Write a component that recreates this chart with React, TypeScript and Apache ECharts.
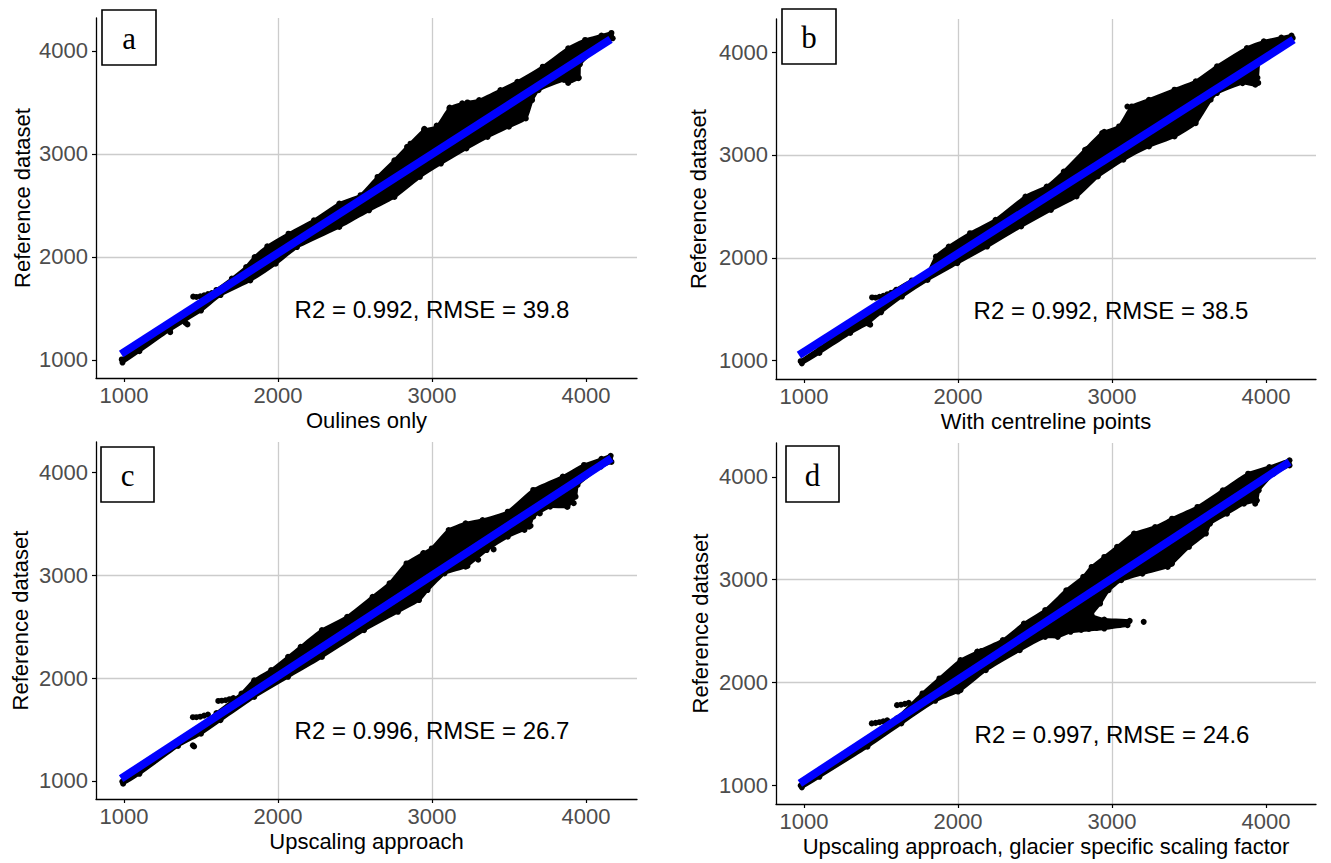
import { useEffect, useRef } from 'react';
import * as echarts from 'echarts';

// ---------- data ----------
const xTicks = [1000, 2000, 3000, 4000];
const yTicks = [1000, 2000, 3000, 4000];
const panelLetters = ['a', 'b', 'c', 'd'];
const xTitles = [
  'Oulines only',
  'With centreline points',
  'Upscaling approach',
  'Upscaling approach, glacier specific scaling factor',
];
const yTitle = 'Reference dataset';
const statLabels = [
  'R2 = 0.992, RMSE = 39.8',
  'R2 = 0.992, RMSE = 38.5',
  'R2 = 0.996, RMSE = 26.7',
  'R2 = 0.997, RMSE = 24.6',
];

// Panel a: upper / lower envelope of the point cloud, outlying points, fitted line
const upperA = [[985,1005],[1100,1130],[1250,1290],[1400,1440],[1600,1680],[1700,1790],[1793,1902],[1848,1999],[1930,2103],[2068,2226],[2233,2356],[2398,2518],[2536,2600],[2646,2777],[2756,2939],[2838,3069],[2948,3231],[3031,3264],[3113,3442],[3196,3491],[3306,3523],[3444,3620],[3554,3701],[3719,3847],[3884,4026],[3994,4107],[4100,4150],[4165,4175]];
const lowerA = [[990,975],[1100,1085],[1297,1290],[1500,1480],[1627,1630],[1820,1772],[1985,1934],[2123,2096],[2398,2291],[2591,2453],[2756,2583],[2921,2777],[3058,2907],[3223,3053],[3361,3166],[3499,3264],[3609,3345],[3650,3523],[3692,3620],[3857,3718],[3884,3690],[3953,3740],[3960,3870],[4104,4074],[4173,4123]];
const outliersA = [[1449,1615],[1470,1612],[1495,1618],[1520,1628],[1545,1640],[1570,1650],[1400,1360],[1412,1345],[1300,1270],[1960,1930],[2010,2080],[2860,3100],[2950,3245],[3030,3275],[3115,3450],[3230,3500],[3950,3735],[3940,3760]];
const lineA = [[981,1058],[4159,4113]];

// Panel b
const upperB = [[978,995],[1100,1120],[1250,1280],[1420,1440],[1600,1690],[1700,1780],[1802,1850],[1857,2012],[1940,2109],[2078,2239],[2244,2369],[2438,2596],[2576,2693],[2687,2839],[2825,3050],[2936,3212],[3046,3277],[3129,3471],[3240,3536],[3406,3634],[3544,3715],[3682,3861],[3876,4039],[3986,4104],[4100,4140],[4166,4160]];
const lowerB = [[986,974],[1100,1075],[1300,1270],[1415,1363],[1500,1470],[1636,1623],[1802,1785],[1995,1947],[2189,2109],[2410,2304],[2604,2466],[2770,2596],[2908,2790],[3074,2953],[3240,3082],[3406,3180],[3544,3309],[3641,3536],[3682,3601],[3848,3698],[3931,3682],[3945,3750],[3959,3925],[4097,4074],[4174,4136]];
const outliersB = [[1442,1615],[1465,1612],[1490,1620],[1515,1630],[1540,1645],[1565,1660],[1590,1675],[1415,1363],[1430,1350],[1910,1965],[1990,2080],[2840,3060],[2950,3225],[3100,3470],[3930,3690],[3950,3700]];
const lineB = [[967,1055],[4179,4120]];

// Panel c
const upperC = [[989,995],[1100,1110],[1300,1310],[1440,1470],[1600,1660],[1763,1850],[1845,1979],[1955,2077],[2065,2206],[2147,2304],[2285,2466],[2449,2596],[2614,2790],[2724,2920],[2834,3114],[2943,3212],[2998,3260],[3108,3439],[3218,3504],[3328,3536],[3492,3617],[3657,3828],[3849,3958],[3987,4071],[4100,4130],[4160,4160]];
const lowerC = [[994,974],[1100,1070],[1351,1340],[1500,1460],[1626,1590],[1845,1817],[2065,2012],[2285,2206],[2559,2466],[2779,2644],[2916,2758],[2971,2855],[3081,3017],[3218,3082],[3355,3244],[3492,3374],[3630,3471],[3657,3568],[3767,3666],[3877,3666],[3932,3763],[3945,3877],[4096,4055],[4165,4100]];
const outliersC = [[1447,1620],[1470,1620],[1495,1625],[1520,1635],[1545,1645],[1612,1778],[1635,1780],[1660,1785],[1685,1795],[1710,1805],[1447,1347],[1455,1335],[1351,1363],[1980,2050],[2945,3215],[3000,3250],[3230,3090],[3300,3150],[3400,3250],[3600,3440],[3640,3480],[3700,3600],[3880,3666],[3920,3700]];
const lineC = [[981,1023],[4165,4136]];

// Panel d
const upperD = [[978,995],[1100,1110],[1300,1310],[1440,1470],[1604,1650],[1769,1892],[1879,2038],[2016,2216],[2126,2297],[2291,2411],[2428,2573],[2566,2703],[2703,2897],[2813,3027],[2868,3124],[2950,3221],[3033,3319],[3143,3449],[3280,3513],[3390,3594],[3555,3708],[3720,3870],[3884,4032],[4022,4097],[4153,4162]];
const lowerD = [[986,977],[1100,1080],[1412,1373],[1632,1600],[1852,1820],[2016,1924],[2181,2119],[2401,2313],[2566,2443],[2648,2443],[2731,2492],[2950,2524],[3101,2557],[3115,2599],[2950,2612],[2868,2654],[2923,2767],[2978,2897],[3060,2994],[3198,3059],[3362,3124],[3390,3157],[3500,3319],[3610,3449],[3637,3546],[3747,3643],[3857,3740],[3939,3773],[3953,3870],[4049,4032],[4153,4113]];
const outliersD = [[1440,1600],[1465,1605],[1490,1612],[1515,1620],[1540,1630],[1604,1778],[1630,1782],[1655,1790],[1680,1800],[2126,2300],[2150,2305],[2000,1910],[2010,1940],[2750,2520],[2800,2510],[2850,2520],[2900,2530],[2950,2545],[3000,2555],[3050,2565],[3100,2575],[3206,2589],[3380,3150],[3940,3770],[3930,3740]];
const lineD = [[973,1016],[4153,4146]];

const uppers = [upperA, upperB, upperC, upperD];
const lowers = [lowerA, lowerB, lowerC, lowerD];
const outliers = [outliersA, outliersB, outliersC, outliersD];
const fitLines = [lineA, lineB, lineC, lineD];

// ---------- layout ----------
const layouts = [
  { left: 96, top: 18, width: 541, height: 360, xMin: 818, xMax: 4331, yMin: 825, yMax: 4320, box: [102, 10, 54, 55], stat: [432, 309], yGap: 63 },
  { left: 776, top: 19, width: 540, height: 360, xMin: 818, xMax: 4325, yMin: 822, yMax: 4321, box: [782, 9, 54, 55], stat: [1111, 310], yGap: 67 },
  { left: 96, top: 442, width: 541, height: 357, xMin: 818, xMax: 4331, yMin: 825, yMax: 4294, box: [101, 447, 53, 55], stat: [432, 730], yGap: 65 },
  { left: 776, top: 443, width: 540, height: 361, xMin: 818, xMax: 4325, yMin: 815, yMax: 4331, box: [786, 446, 53, 56], stat: [1112, 734], yGap: 65 },
];

const SANS = 'Liberation Sans, Arial, sans-serif';
const SERIF = 'Liberation Serif, Times New Roman, serif';
const GRID_COLOR = '#cccccc';
const plainNumber = (v: number) => String(v);

function buildOption() {
  const grid: any[] = [];
  const xAxis: any[] = [];
  const yAxis: any[] = [];
  const series: any[] = [];
  const graphic: any[] = [];

  layouts.forEach((L, i) => {
    grid.push({ left: L.left, top: L.top, width: L.width, height: L.height, containLabel: false });
    const common = {
      gridIndex: i,
      type: 'value',
      nameLocation: 'middle',
      axisLine: { show: true, onZero: false, lineStyle: { color: '#000', width: 1.3 } },
      axisTick: { show: true, length: 4, inside: false, lineStyle: { color: '#000', width: 1.2 } },
      splitLine: { show: true, showMinLine: false, showMaxLine: false, lineStyle: { color: GRID_COLOR, width: 1.3 } },
      nameTextStyle: { color: '#000', fontSize: 22, fontFamily: SANS },
    };
    xAxis.push({
      ...common,
      min: L.xMin,
      max: L.xMax,
      name: xTitles[i],
      nameGap: 31,
      axisTick: { ...common.axisTick, customValues: xTicks },
      axisLabel: { customValues: xTicks, formatter: plainNumber, color: '#4d4d4d', fontSize: 22, fontFamily: SANS, margin: 6 },
    });
    yAxis.push({
      ...common,
      min: L.yMin,
      max: L.yMax,
      name: yTitle,
      nameGap: L.yGap,
      axisTick: { ...common.axisTick, customValues: yTicks },
      axisLabel: { customValues: yTicks, formatter: plainNumber, color: '#4d4d4d', fontSize: 22, fontFamily: SANS, margin: 8 },
    });

    const poly = uppers[i].concat(lowers[i].slice().reverse());
    series.push({
      type: 'custom',
      xAxisIndex: i,
      yAxisIndex: i,
      data: poly,
      silent: true,
      z: 2,
      renderItem: (params: any, api: any) => {
        if (params.dataIndex !== 0) return null;
        const pts = poly.map((p) => api.coord(p));
        return {
          type: 'polygon',
          shape: { points: pts, smooth: 0.15 },
          style: { fill: '#000', stroke: '#000', lineWidth: 3, lineJoin: 'round' },
        };
      },
    });
    series.push({
      type: 'scatter',
      xAxisIndex: i,
      yAxisIndex: i,
      data: outliers[i].concat(uppers[i], lowers[i]),
      symbolSize: 6,
      itemStyle: { color: '#000', opacity: 1 },
      silent: true,
      z: 3,
    });
    series.push({
      type: 'line',
      xAxisIndex: i,
      yAxisIndex: i,
      data: fitLines[i],
      showSymbol: false,
      symbol: 'none',
      lineStyle: { color: '#0000ff', width: 8, cap: 'butt', opacity: 1 },
      silent: true,
      z: 4,
    });

    const [bx, by, bw, bh] = L.box;
    graphic.push({
      type: 'rect',
      shape: { x: bx, y: by, width: bw, height: bh },
      style: { fill: '#fff', stroke: '#000', lineWidth: 1.6 },
      z: 100,
    });
    graphic.push({
      type: 'text',
      x: bx + bw / 2,
      y: by + bh / 2 + 1,
      style: {
        text: panelLetters[i],
        fill: '#000',
        font: `31px ${SERIF}`,
        textAlign: 'center',
        textVerticalAlign: 'middle',
      },
      z: 101,
    });
    graphic.push({
      type: 'text',
      x: L.stat[0],
      y: L.stat[1],
      style: {
        text: statLabels[i],
        fill: '#000',
        font: `24px ${SANS}`,
        textAlign: 'center',
        textVerticalAlign: 'middle',
      },
      z: 100,
    });
  });

  return {
    animation: false,
    backgroundColor: '#ffffff',
    grid,
    xAxis,
    yAxis,
    series,
    graphic,
  };
}

export default function App() {
  const ref = useRef<HTMLDivElement>(null);
  useEffect(() => {
    if (!ref.current) return;
    const chart = echarts.init(ref.current, undefined, { renderer: 'svg' });
    chart.setOption(buildOption() as any);
    return () => chart.dispose();
  }, []);
  return (
    <div
      ref={ref}
      style={{ position: 'absolute', left: 0, top: 0, width: 1331, height: 863, background: '#fff' }}
    />
  );
}
